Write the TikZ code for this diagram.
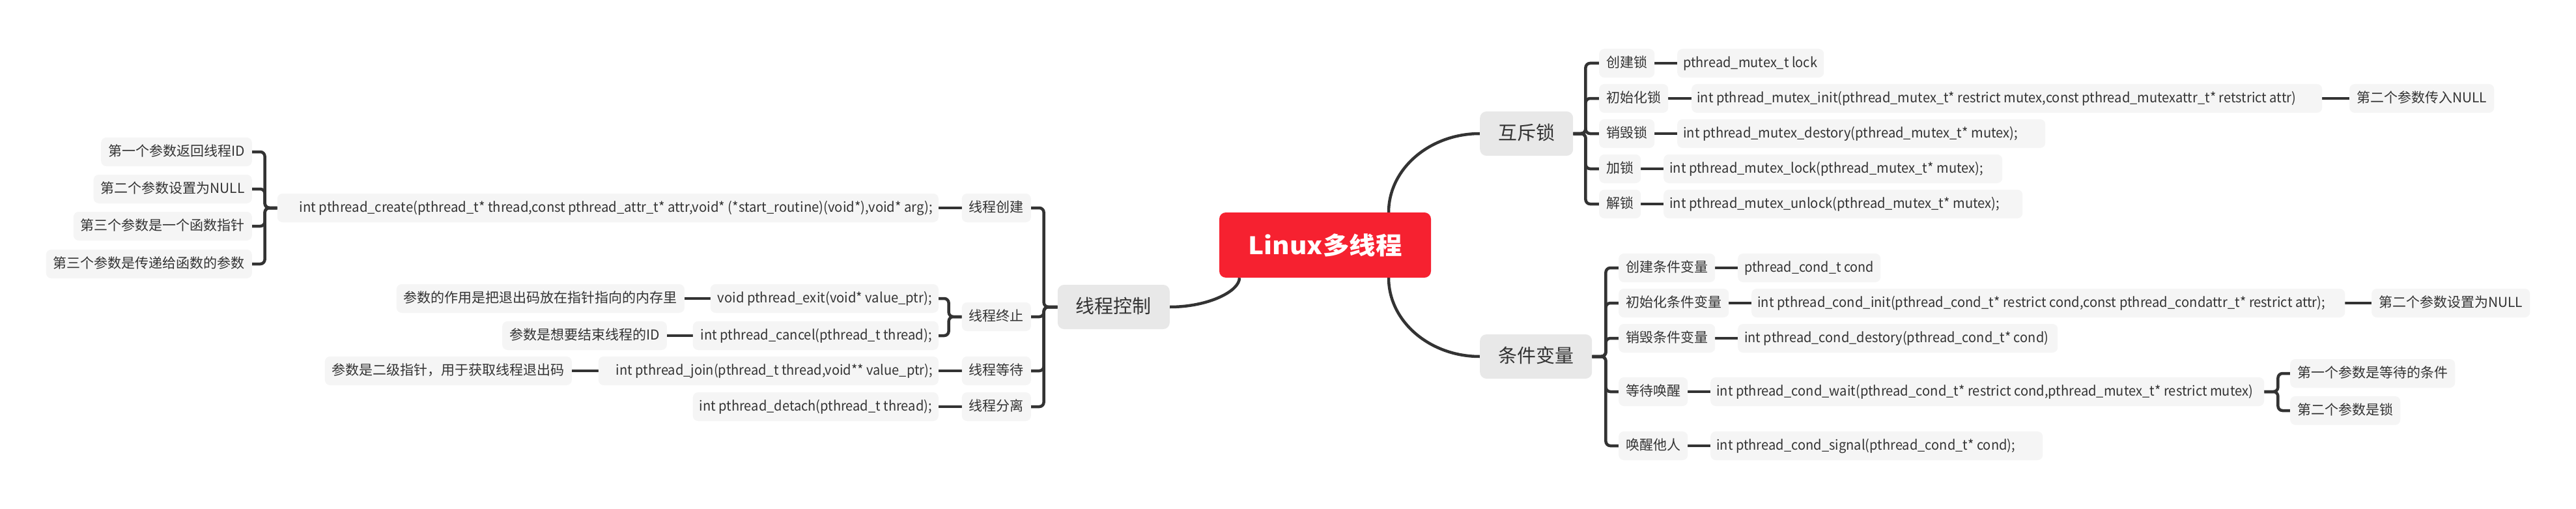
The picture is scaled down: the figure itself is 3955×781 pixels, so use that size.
\documentclass[tikz,border=0pt]{standalone}
\usepackage{fontspec}
\usepackage{graphicx}
\usetikzlibrary{backgrounds}
\newfontfamily\cjk{Noto Sans CJK SC}
\definecolor{linec}{HTML}{333333}
\definecolor{txtc}{HTML}{333333}
\definecolor{sboxc}{HTML}{F5F5F5}
\definecolor{bboxc}{HTML}{E8E8E8}
\definecolor{redc}{HTML}{F62130}
\newcommand\cbox[4]{\makebox[#1pt][l]{\hspace*{#2pt}\resizebox{#3pt}{\height}{#4}}}
\begin{document}
\begin{tikzpicture}[x={(1pt,0pt)}, y={(0pt,-1pt)},
  small/.style={rounded corners=8pt, fill=sboxc, text=txtc, font=\cjk\fontsize{21}{25}\selectfont,
    inner xsep=11pt, inner ysep=0pt, minimum height=44pt, text height=17pt, text depth=4pt},
  code/.style={small, inner xsep=0pt},
  big/.style={rounded corners=10pt, fill=bboxc, text=txtc, font=\cjk\fontsize{29}{34}\selectfont,
    inner xsep=28pt, inner ysep=0pt, minimum height=68pt, text height=24pt, text depth=5pt},
  rootbox/.style={rounded corners=10pt, fill=redc, text=white, font=\cjk\bfseries\fontsize{37}{42}\selectfont,
    inner sep=0pt, minimum width=325pt, minimum height=100pt},
  conn/.style={draw=linec, line width=4.5pt, rounded corners=7pt}]
\useasboundingbox (0,0) rectangle (3955,781);

% root and main branches
\node[rootbox] (root) at (2034.5,376) {\resizebox{236pt}{\height}{Linux多线程}};
\node[big, anchor=east] (ctrl) at (1796,471) {线程控制};
\node[big, anchor=west] (mutex) at (2272,205) {互斥锁};
\node[big, anchor=west] (condv) at (2272,547) {条件变量};

% thread control
\node[small, anchor=east] (t1) at (1583,319) {线程创建};
\node[small, anchor=east] (t2) at (1583,486) {线程终止};
\node[small, anchor=east] (t3) at (1583,569) {线程等待};
\node[small, anchor=east] (t4) at (1583,624) {线程分离};
\node[code, anchor=east] (create) at (1441,319) {\cbox{1015}{34}{972}{int pthread\_create(pthread\_t* thread,const pthread\_attr\_t* attr,void* (*start\_routine)(void*),void* arg);}};
\node[code, anchor=east] (exit) at (1441,458) {\cbox{350}{11}{329}{void pthread\_exit(void* value\_ptr);}};
\node[code, anchor=east] (cancel) at (1441,515) {\cbox{377}{12}{355}{int pthread\_cancel(pthread\_t thread);}};
\node[code, anchor=east] (join) at (1441,569) {\cbox{522}{27}{486}{int pthread\_join(pthread\_t thread,void** value\_ptr);}};
\node[code, anchor=east] (detach) at (1441,624) {\cbox{377}{10}{357}{int pthread\_detach(pthread\_t thread);}};
\node[small, anchor=east] (e1) at (1051,458) {参数的作用是把退出码放在指针指向的内存里};
\node[small, anchor=east] (e2) at (1024,515) {参数是想要结束线程的ID};
\node[small, anchor=east] (j1) at (878,569) {参数是二级指针，用于获取线程退出码};
\node[small, anchor=east] (p1) at (387,233) {第一个参数返回线程ID};
\node[small, anchor=east] (p2) at (387,290) {第二个参数设置为NULL};
\node[small, anchor=east] (p3) at (387,347) {第三个参数是一个函数指针};
\node[small, anchor=east] (p4) at (387,405) {第三个参数是传递给函数的参数};

% mutex
\node[small, anchor=west] (m1) at (2455,97) {创建锁};
\node[small, anchor=west] (m2) at (2455,151) {初始化锁};
\node[small, anchor=west] (m3) at (2455,205) {销毁锁};
\node[small, anchor=west] (m4) at (2455,259) {加锁};
\node[small, anchor=west] (m5) at (2455,313) {解锁};
\node[code, anchor=west] (mc1) at (2575,97) {\cbox{225}{9}{206}{pthread\_mutex\_t lock}};
\node[code, anchor=west] (mc2) at (2597,151) {\cbox{968}{8}{920}{int pthread\_mutex\_init(pthread\_mutex\_t* restrict mutex,const pthread\_mutexattr\_t* retstrict attr)}};
\node[code, anchor=west] (mc3) at (2575,205) {\cbox{565}{9}{514}{int pthread\_mutex\_destory(pthread\_mutex\_t* mutex);}};
\node[code, anchor=west] (mc4) at (2554,259) {\cbox{520}{9}{482}{int pthread\_mutex\_lock(pthread\_mutex\_t* mutex);}};
\node[code, anchor=west] (mc5) at (2554,313) {\cbox{551}{9}{507}{int pthread\_mutex\_unlock(pthread\_mutex\_t* mutex);}};
\node[small, anchor=west] (mn) at (3607,151) {第二个参数传入NULL};

% condition variable
\node[small, anchor=west] (c1) at (2485,411) {创建条件变量};
\node[small, anchor=west] (c2) at (2485,465) {初始化条件变量};
\node[small, anchor=west] (c3) at (2485,519) {销毁条件变量};
\node[small, anchor=west] (c4) at (2485,601) {等待唤醒};
\node[small, anchor=west] (c5) at (2485,684) {唤醒他人};
\node[code, anchor=west] (cc1) at (2668,411) {\cbox{219}{10}{199}{pthread\_cond\_t cond}};
\node[code, anchor=west] (cc2) at (2689,465) {\cbox{911}{9}{872}{int pthread\_cond\_init(pthread\_cond\_t* restrict cond,const pthread\_condattr\_t* restrict attr);}};
\node[code, anchor=west] (cc3) at (2668,519) {\cbox{491}{10}{467}{int pthread\_cond\_destory(pthread\_cond\_t* cond)}};
\node[code, anchor=west] (cc4) at (2626,601) {\cbox{850}{9}{824}{int pthread\_cond\_wait(pthread\_cond\_t* restrict cond,pthread\_mutex\_t* restrict mutex)}};
\node[code, anchor=west] (cc5) at (2626,684) {\cbox{510}{9}{459}{int pthread\_cond\_signal(pthread\_cond\_t* cond);}};
\node[small, anchor=west] (cn) at (3641,465) {第二个参数设置为NULL};
\node[small, anchor=west] (w1) at (3516,573) {第一个参数是等待的条件};
\node[small, anchor=west] (w2) at (3516,630) {第二个参数是锁};

\begin{pgfonlayer}{background}
\fill[white] (0,0) rectangle (3955,781);
% main curves
\draw[conn] ([xshift=97.5pt]root.north) .. controls (2132,259) and (2195,205) .. (mutex.west);
\draw[conn] ([xshift=97.5pt]root.south) .. controls (2132,493) and (2195,547) .. (condv.west);
\draw[conn] (ctrl.east) .. controls (1855,471) and (1903,447) .. ([xshift=-131.5pt]root.south);
% thread control
\foreach \c in {t1,t2,t3,t4} \draw[conn] (ctrl.west) -- ++(-21,0) |- (\c.east);
\draw[conn] (t1.west) -- (create.east);
\foreach \c in {exit,cancel} \draw[conn] (t2.west) -- ++(-20,0) |- (\c.east);
\draw[conn] (t3.west) -- (join.east);
\draw[conn] (t4.west) -- (detach.east);
\draw[conn] (exit.west) -- (e1.east);
\draw[conn] (cancel.west) -- (e2.east);
\draw[conn] (join.west) -- (j1.east);
\foreach \c in {p1,p2,p3,p4} \draw[conn] (create.west) -- ++(-19,0) |- (\c.east);
% mutex
\foreach \c in {m1,m2,m3,m4,m5} \draw[conn] (mutex.east) -- ++(19,0) |- (\c.west);
\draw[conn] (m1.east) -- (mc1.west);
\draw[conn] (m2.east) -- (mc2.west);
\draw[conn] (m3.east) -- (mc3.west);
\draw[conn] (m4.east) -- (mc4.west);
\draw[conn] (m5.east) -- (mc5.west);
\draw[conn] (mc2.east) -- (mn.west);
% condition variable
\foreach \c in {c1,c2,c3,c4,c5} \draw[conn] (condv.east) -- ++(21,0) |- (\c.west);
\draw[conn] (c1.east) -- (cc1.west);
\draw[conn] (c2.east) -- (cc2.west);
\draw[conn] (c3.east) -- (cc3.west);
\draw[conn] (c4.east) -- (cc4.west);
\draw[conn] (c5.east) -- (cc5.west);
\draw[conn] (cc2.east) -- (cn.west);
\foreach \c in {w1,w2} \draw[conn] (cc4.east) -- ++(21,0) |- (\c.west);
\end{pgfonlayer}
\end{tikzpicture}
\end{document}
